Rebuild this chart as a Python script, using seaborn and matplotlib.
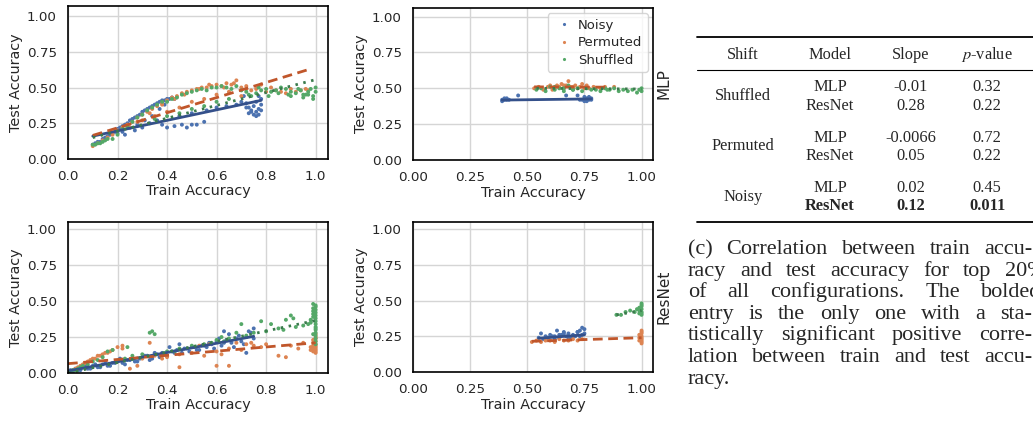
import matplotlib.pyplot as plt
import seaborn as sns
import pandas as pd
from matplotlib.lines import Line2D

# ---- data ----
shifts = ["Noisy", "Permuted", "Shuffled"]

# MLP, all configurations
mlp_all_noisy_x = [0.10,0.11,0.12,0.13,0.14,0.15,0.16,0.17,0.18,0.19,
                   0.20,0.21,0.22,0.23,0.24,0.25,0.26,0.27,0.28,0.29,
                   0.30,0.31,0.32,0.33,0.34,0.35,0.36,0.37,0.38,0.39,
                   0.40,0.41,0.42,0.43,0.39,0.37,0.34,0.31,0.28,0.25,
                   0.22,0.20,0.23,0.27,0.30,0.33,0.36,0.38,0.40,0.43,
                   0.46,0.48,0.50,0.52,0.55,0.45,0.50,0.56,0.60,0.64,
                   0.68,0.70,0.71,0.72,0.73,0.74,0.75,0.76,0.77,0.78,
                   0.78,0.77,0.76,0.75,0.74,0.73,0.72,0.76,0.77,0.78]
mlp_all_noisy_y = [0.10,0.11,0.12,0.12,0.14,0.15,0.16,0.17,0.18,0.19,
                   0.21,0.22,0.23,0.24,0.25,0.27,0.28,0.29,0.30,0.31,
                   0.33,0.34,0.35,0.36,0.37,0.38,0.39,0.40,0.41,0.41,
                   0.42,0.42,0.43,0.42,0.38,0.35,0.30,0.27,0.24,0.22,
                   0.19,0.18,0.17,0.20,0.22,0.25,0.27,0.24,0.22,0.23,
                   0.24,0.22,0.24,0.24,0.26,0.30,0.32,0.34,0.36,0.37,
                   0.38,0.40,0.44,0.39,0.36,0.33,0.31,0.30,0.35,0.38,
                   0.42,0.44,0.40,0.37,0.34,0.32,0.36,0.33,0.31,0.34]
mlp_all_perm_x = [0.10,0.12,0.14,0.16,0.18,0.20,0.22,0.24,0.26,0.28,
                  0.30,0.32,0.34,0.36,0.38,0.40,0.42,0.44,0.46,0.48,
                  0.50,0.52,0.54,0.56,0.58,0.60,0.62,0.64,0.66,0.68,
                  0.70,0.72,0.74,0.76,0.78,0.80,0.82,0.84,0.86,0.88,
                  0.90,0.92,0.94,0.96,0.97,0.35,0.40,0.45,0.50,0.55,
                  0.60,0.65,0.70,0.30,0.25,0.53,0.57,0.63,0.67,0.72,
                  0.43,0.47,0.38,0.33,0.28]
mlp_all_perm_y = [0.09,0.11,0.13,0.15,0.17,0.20,0.22,0.24,0.26,0.29,
                  0.31,0.33,0.35,0.37,0.39,0.41,0.43,0.44,0.46,0.47,
                  0.48,0.49,0.50,0.50,0.51,0.52,0.51,0.53,0.52,0.55,
                  0.50,0.51,0.48,0.49,0.52,0.47,0.50,0.48,0.47,0.46,
                  0.49,0.47,0.48,0.49,0.48,0.30,0.33,0.36,0.40,0.42,
                  0.45,0.47,0.44,0.27,0.22,0.49,0.52,0.50,0.53,0.49,
                  0.42,0.45,0.38,0.32,0.26]
mlp_all_shuf_x = [0.10,0.11,0.12,0.13,0.14,0.15,0.16,0.18,0.20,0.22,
                  0.24,0.26,0.28,0.30,0.32,0.34,0.36,0.38,0.40,0.42,
                  0.44,0.46,0.48,0.50,0.52,0.54,0.56,0.58,0.60,0.62,
                  0.64,0.66,0.68,0.70,0.72,0.74,0.76,0.78,0.80,0.82,
                  0.84,0.86,0.88,0.90,0.92,0.94,0.95,0.96,0.97,0.98,
                  0.99,1.00,1.00,0.99,0.97,0.93,0.89,0.85,0.81,0.77,
                  0.73,0.45,0.50,0.55,0.60,0.40,0.35,0.65,0.90,0.95]
mlp_all_shuf_y = [0.10,0.10,0.11,0.11,0.12,0.13,0.14,0.14,0.17,0.21,
                  0.23,0.26,0.29,0.31,0.34,0.36,0.38,0.40,0.40,0.42,
                  0.43,0.45,0.46,0.47,0.48,0.49,0.48,0.50,0.50,0.51,
                  0.50,0.49,0.51,0.48,0.47,0.44,0.46,0.48,0.49,0.47,
                  0.48,0.50,0.49,0.44,0.46,0.48,0.43,0.45,0.47,0.49,
                  0.44,0.47,0.50,0.42,0.45,0.49,0.45,0.46,0.44,0.50,
                  0.45,0.32,0.35,0.37,0.40,0.30,0.28,0.42,0.47,0.45]

# MLP, top 20% configurations
mlp_top_noisy_x = [0.39,0.39,0.40,0.40,0.41,0.41,0.42,0.46,0.67,0.72,
                   0.74,0.75,0.76,0.77,0.77,0.78,0.78,0.76,0.73,0.75]
mlp_top_noisy_y = [0.41,0.42,0.42,0.43,0.42,0.43,0.42,0.45,0.45,0.45,
                   0.42,0.44,0.41,0.42,0.44,0.43,0.42,0.43,0.42,0.41]
mlp_top_perm_x = [0.53,0.55,0.57,0.59,0.60,0.62,0.63,0.64,0.65,0.66,
                  0.67,0.68,0.69,0.70,0.71,0.72,0.73,0.74,0.75,0.76,
                  0.77,0.79,0.82,0.84,0.88,0.61,0.66,0.70]
mlp_top_perm_y = [0.50,0.51,0.49,0.51,0.52,0.50,0.52,0.51,0.53,0.50,
                  0.52,0.55,0.51,0.50,0.52,0.50,0.51,0.53,0.50,0.52,
                  0.50,0.51,0.50,0.51,0.51,0.49,0.52,0.51]
mlp_top_shuf_x = [0.54,0.56,0.58,0.60,0.62,0.64,0.66,0.68,0.70,0.72,
                  0.74,0.76,0.78,0.80,0.82,0.84,0.86,0.88,0.90,0.92,
                  0.94,0.96,0.98,1.00,1.00,0.99,0.62,0.66,0.70,0.85]
mlp_top_shuf_y = [0.49,0.50,0.48,0.51,0.49,0.50,0.48,0.52,0.49,0.50,
                  0.48,0.50,0.49,0.49,0.48,0.50,0.49,0.50,0.48,0.49,
                  0.48,0.49,0.47,0.50,0.48,0.49,0.51,0.50,0.49,0.49]

# ResNet, all configurations
res_all_noisy_x = [0.00,0.01,0.02,0.03,0.04,0.05,0.06,0.08,0.10,0.12,
                   0.14,0.16,0.18,0.20,0.22,0.24,0.26,0.28,0.30,0.32,
                   0.34,0.36,0.38,0.40,0.42,0.44,0.46,0.48,0.50,0.52,
                   0.54,0.56,0.58,0.60,0.62,0.64,0.66,0.68,0.70,0.72,
                   0.74,0.75,0.75,0.73,0.71,0.69,0.67,0.65,0.63,0.61,
                   0.59,0.57,0.55,0.53,0.51,0.49,0.47,0.45,0.43,0.41,
                   0.39,0.37,0.35,0.33,0.31,0.29,0.27,0.25,0.23,0.21,
                   0.19,0.17,0.15,0.13,0.11,0.09,0.07,0.05,0.63,0.72]
res_all_noisy_y = [0.01,0.02,0.01,0.03,0.02,0.03,0.04,0.03,0.05,0.04,
                   0.06,0.05,0.07,0.08,0.07,0.09,0.10,0.08,0.11,0.12,
                   0.10,0.13,0.14,0.12,0.15,0.16,0.14,0.17,0.18,0.16,
                   0.19,0.18,0.20,0.22,0.19,0.23,0.21,0.24,0.22,0.25,
                   0.28,0.31,0.24,0.29,0.20,0.26,0.18,0.27,0.21,0.24,
                   0.17,0.21,0.19,0.16,0.18,0.15,0.17,0.20,0.14,0.18,
                   0.13,0.11,0.14,0.09,0.12,0.10,0.08,0.09,0.06,0.10,
                   0.07,0.05,0.08,0.04,0.06,0.03,0.05,0.02,0.29,0.14]
res_all_perm_x = [0.00,0.01,0.02,0.03,0.04,0.05,0.06,0.07,0.08,0.09,
                  0.10,0.11,0.12,0.13,0.14,0.15,0.16,0.17,0.18,0.20,
                  0.22,0.22,0.25,0.30,0.35,0.40,0.45,0.50,0.55,0.60,
                  0.62,0.65,0.68,0.70,0.72,0.75,0.78,0.80,0.85,0.88,
                  0.90,0.93,0.95,0.28,0.38,0.45,0.60,0.65,0.33,0.53,
                  1.00,1.00,1.00,1.00,1.00,1.00,1.00,1.00,1.00,1.00,
                  0.99,0.99,0.99,0.99,0.98,0.98,0.99,1.00,0.57,0.74]
res_all_perm_y = [0.00,0.01,0.02,0.03,0.04,0.05,0.06,0.07,0.08,0.09,
                  0.10,0.10,0.12,0.12,0.13,0.14,0.14,0.15,0.16,0.18,
                  0.19,0.17,0.03,0.10,0.12,0.11,0.13,0.14,0.12,0.15,
                  0.13,0.17,0.21,0.16,0.20,0.19,0.18,0.20,0.12,0.11,
                  0.19,0.17,0.21,0.05,0.10,0.04,0.05,0.05,0.21,0.19,
                  0.14,0.15,0.16,0.17,0.18,0.19,0.20,0.22,0.24,0.27,
                  0.15,0.17,0.19,0.21,0.16,0.18,0.23,0.25,0.20,0.21]
res_all_shuf_x = [0.00,0.01,0.02,0.03,0.04,0.05,0.06,0.08,0.10,0.12,
                  0.14,0.16,0.18,0.20,0.23,0.26,0.30,0.33,0.34,0.35,
                  0.40,0.45,0.50,0.55,0.60,0.62,0.65,0.68,0.70,0.72,
                  0.75,0.78,0.80,0.82,0.85,0.87,0.88,0.90,0.92,0.95,
                  0.97,1.00,1.00,1.00,1.00,1.00,1.00,1.00,1.00,1.00,
                  1.00,1.00,1.00,1.00,1.00,0.99,0.99,0.99,0.99,0.99,
                  0.98,0.98,0.99,1.00,1.00,0.24,0.43,0.58,0.63,0.91]
res_all_shuf_y = [0.00,0.01,0.02,0.02,0.03,0.04,0.05,0.06,0.08,0.09,
                  0.11,0.15,0.16,0.08,0.10,0.12,0.13,0.28,0.29,0.27,
                  0.15,0.17,0.19,0.20,0.23,0.25,0.24,0.28,0.34,0.26,
                  0.28,0.36,0.29,0.34,0.31,0.30,0.37,0.40,0.32,0.33,
                  0.34,0.20,0.22,0.24,0.26,0.28,0.30,0.32,0.34,0.36,
                  0.38,0.40,0.42,0.44,0.46,0.48,0.45,0.43,0.41,0.39,
                  0.37,0.35,0.27,0.47,0.31,0.18,0.15,0.21,0.22,0.38]

# ResNet, top 20% configurations
res_top_noisy_x = [0.55,0.56,0.57,0.58,0.59,0.60,0.61,0.62,0.63,0.64,
                   0.65,0.66,0.67,0.68,0.69,0.70,0.71,0.72,0.73,0.74,
                   0.75,0.75,0.74,0.73,0.72,0.70,0.68,0.66,0.64,0.62]
res_top_noisy_y = [0.24,0.27,0.23,0.25,0.24,0.26,0.25,0.23,0.29,0.24,
                   0.26,0.28,0.25,0.27,0.24,0.26,0.25,0.28,0.29,0.26,
                   0.30,0.27,0.31,0.25,0.28,0.25,0.24,0.27,0.26,0.25]
res_top_perm_x = [0.52,0.54,0.56,0.58,0.60,0.62,0.64,0.66,0.68,0.70,
                  0.72,0.74,1.00,1.00,1.00,1.00,1.00,1.00,1.00,1.00,
                  0.99,0.99,0.99,1.00]
res_top_perm_y = [0.21,0.22,0.21,0.22,0.22,0.21,0.23,0.22,0.22,0.23,
                  0.22,0.23,0.20,0.21,0.22,0.23,0.24,0.25,0.27,0.29,
                  0.22,0.24,0.26,0.28]
res_top_shuf_x = [0.89,0.91,0.93,0.95,0.97,0.98,0.99,1.00,1.00,1.00,
                  1.00,1.00,1.00,0.99,0.99,1.00]
res_top_shuf_y = [0.40,0.40,0.42,0.43,0.42,0.44,0.41,0.40,0.42,0.44,
                  0.46,0.47,0.48,0.45,0.43,0.41]

# fitted regression lines (end points) per panel, order Noisy, Permuted, Shuffled
mlp_all_fit_x = [[0.10, 0.78], [0.10, 0.97], [0.10, 1.00]]
mlp_all_fit_y = [[0.16, 0.41], [0.165, 0.625], [0.15, 0.555]]
mlp_top_fit_x = [[0.39, 0.78], [0.53, 0.84], [0.54, 1.00]]
mlp_top_fit_y = [[0.418, 0.426], [0.51, 0.508], [0.50, 0.495]]
res_all_fit_x = [[0.00, 0.75], [0.00, 1.00], [0.00, 1.00]]
res_all_fit_y = [[0.014, 0.255], [0.065, 0.21], [0.00, 0.365]]
res_top_fit_x = [[0.55, 0.75], [0.52, 1.00], [0.89, 1.00]]
res_top_fit_y = [[0.236, 0.26], [0.215, 0.24], [0.40, 0.43]]

# table (c)
tab_shift = ["Shuffled", "Permuted", "Noisy"]
tab_model = ["MLP", "ResNet"]
tab_slope = [["-0.01", "0.28"], ["-0.0066", "0.05"], ["0.02", "0.12"]]
tab_pval = [["0.32", "0.22"], ["0.72", "0.22"], ["0.45", "0.011"]]
caption = ["(c) Correlation between train accu-",
           "racy and test accuracy for top 20%",
           "of all configurations.  The bolded",
           "entry is the only one with a sta-",
           "tistically significant positive corre-",
           "lation between train and test accu-",
           "racy."]


def make_df(xs, ys):
    parts = []
    for s, x, y in zip(shifts, xs, ys):
        parts.append(pd.DataFrame({"train": x, "test": y, "shift": s}))
    return pd.concat(parts, ignore_index=True)


panels = [
    (make_df([mlp_all_noisy_x, mlp_all_perm_x, mlp_all_shuf_x],
             [mlp_all_noisy_y, mlp_all_perm_y, mlp_all_shuf_y]), mlp_all_fit_x, mlp_all_fit_y),
    (make_df([mlp_top_noisy_x, mlp_top_perm_x, mlp_top_shuf_x],
             [mlp_top_noisy_y, mlp_top_perm_y, mlp_top_shuf_y]), mlp_top_fit_x, mlp_top_fit_y),
    (make_df([res_all_noisy_x, res_all_perm_x, res_all_shuf_x],
             [res_all_noisy_y, res_all_perm_y, res_all_shuf_y]), res_all_fit_x, res_all_fit_y),
    (make_df([res_top_noisy_x, res_top_perm_x, res_top_shuf_x],
             [res_top_noisy_y, res_top_perm_y, res_top_shuf_y]), res_top_fit_x, res_top_fit_y),
]

sns.set_theme(style="whitegrid")
plt.rcParams.update({"axes.edgecolor": "black", "axes.linewidth": 1.2,
                     "grid.color": "#d5d5d5", "mathtext.fontset": "stix"})

W, H = 1033, 421
fig = plt.figure(figsize=(W / 100, H / 100), dpi=100)
# axes boxes in pixels: left, top, right, bottom
boxes = [(68, 6, 328, 159), (413, 8, 653, 160), (68, 222, 328, 373), (413, 222, 653, 372)]
ytops = [1.07, 1.06, 1.05, 1.05]
pal = sns.color_palette("deep")[:3]
line_cols = ["#34508a", "#c0562b", "#3a7a4c"]
line_styles = ["-", (0, (3.5, 2)), (0, (0.9, 2))]

for i, ((df, fx, fy), box) in enumerate(zip(panels, boxes)):
    l, t, r, b = box
    ax = fig.add_axes([l / W, 1 - b / H, (r - l) / W, (b - t) / H])
    sns.scatterplot(data=df, x="train", y="test", hue="shift", hue_order=shifts,
                    palette=pal, s=8, linewidth=0, ax=ax, legend=(i == 1))
    for k in range(3):
        ax.plot(fx[k], fy[k], color=line_cols[k], ls=line_styles[k], lw=2)
    ax.set_xlim(0, 1.05)
    ax.set_ylim(0, ytops[i])
    ax.set_yticks([0, 0.25, 0.5, 0.75, 1.0])
    if i % 2 == 0:
        ax.set_xticks([0, 0.2, 0.4, 0.6, 0.8, 1.0])
    else:
        ax.set_xticks([0, 0.25, 0.5, 0.75, 1.0])
        ax.xaxis.set_major_formatter(plt.FormatStrFormatter("%.2f"))
    ax.yaxis.set_major_formatter(plt.FormatStrFormatter("%.2f"))
    ax.tick_params(labelsize=9.7, pad=2)
    ax.set_xlabel("Train Accuracy", fontsize=10.4, labelpad=1)
    ax.set_ylabel("Test Accuracy", fontsize=10.4, labelpad=3)
    if i == 1:
        sns.move_legend(ax, "upper right", title=None, fontsize=9.5, markerscale=0.8,
                        handletextpad=0.3, handlelength=1.6, borderaxespad=0.4,
                        labelspacing=0.35)
        ax.text(1.015, 0.5, "MLP", transform=ax.transAxes, rotation=90,
                va="center", ha="left", fontsize=11)
    if i == 3:
        ax.text(1.015, 0.5, "ResNet", transform=ax.transAxes, rotation=90,
                va="center", ha="left", fontsize=11)


def ftext(px, py, s, **kw):
    return fig.text(px / W, 1 - py / H, s, **kw)


serif = dict(family="Liberation Serif", fontsize=11.8, ha="center", va="center")
fig.add_artist(Line2D([697 / W, 1.0], [1 - 37 / H] * 2, color="black", lw=1.3))
fig.add_artist(Line2D([697 / W, 1.0], [1 - 70 / H] * 2, color="black", lw=0.8))
fig.add_artist(Line2D([697 / W, 1.0], [1 - 222 / H] * 2, color="black", lw=1.3))
cols = [743, 830, 911, 987]
for cx, h in zip(cols, ["Shift", "Model", "Slope", r"$p$-value"]):
    ftext(cx, 55, h, **serif)
for g, s in enumerate(tab_shift):
    yc = 96 + 50.5 * g
    ftext(cols[0], yc, s, **serif)
    for j, m in enumerate(tab_model):
        yy = yc - 9 + 18.5 * j
        bold = "bold" if (s == "Noisy" and m == "ResNet") else "normal"
        ftext(cols[1], yy, m, fontweight=bold, **serif)
        ftext(cols[2], yy, tab_slope[g][j], fontweight=bold, **serif)
        ftext(cols[3], yy, tab_pval[g][j], fontweight=bold, **serif)

# justified caption (lines 2 and 3 run past the right edge, as in the source)
renderer = fig.canvas.get_renderer()
cap_font = dict(family="Liberation Serif", fontsize=16.0, va="baseline")
rights = [1032, 1046, 1041, 1032, 1032, 1032, None]
for n, (line, rr) in enumerate(zip(caption, rights)):
    yb = 254 + 21.6 * n
    if rr is None:
        ftext(688, yb, line, **cap_font)
        continue
    words = line.split()
    objs = [ftext(688, yb, w_, **cap_font) for w_ in words]
    widths = [o.get_window_extent(renderer).width for o in objs]
    gap = (rr - 688 - sum(widths)) / (len(words) - 1)
    xpos = 688
    for o, wd in zip(objs, widths):
        o.set_position((xpos / W, 1 - yb / H))
        xpos += wd + gap

fig.savefig("out.png", dpi=100)
